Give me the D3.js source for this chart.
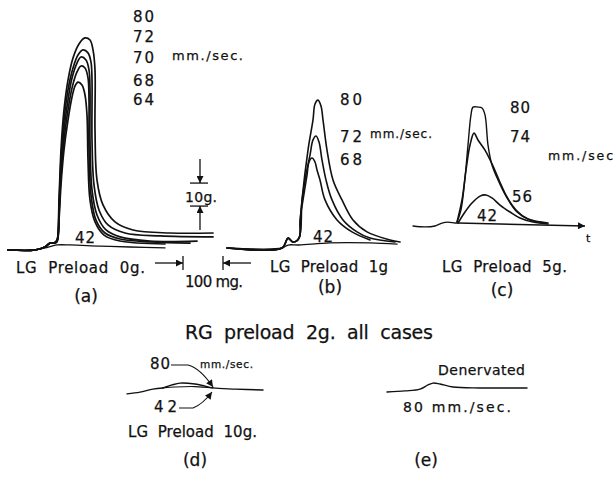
<!DOCTYPE html>
<html><head><meta charset="utf-8">
<script src="https://cdn.jsdelivr.net/npm/d3@7"></script>
<style>
body{margin:0;background:#fff}
svg{display:block}
text{font-family:"DejaVu Sans","Liberation Sans",Arial,sans-serif;fill:#111;stroke:#111;stroke-width:0.25}
</style>
</head><body>
<svg id="c" width="616" height="478"></svg>
<script>
// ---- DATA: force traces, time in ms, force in g ----
// Panel (a) LG preload 0 g
const aStart = [[0,0],[67.5,0],[92.5,1.3],[105,3],[115,3]];
const a80 = [[122.5,4.3],[127.5,21.7],[132.5,43.5],[140,60.9],[150,73.9],[162.5,83.5],[177.5,89.6],[192.5,92.2],[205,91.3],[212.5,87],[217.5,78.3],[217.5,52.2],[222.5,30.4],[237.5,19.6],[267.5,12.2],[312.5,8.7],[405,7.4],[512.5,7.4]];
const a72 = [[122.5,4.3],[127.5,19.6],[132.5,39.1],[140,56.5],[150,69.6],[162.5,79.1],[175,84.8],[187.5,87],[200,85.7],[207.5,81.7],[210,73.9],[210,47.8],[215,28.3],[227.5,17.4],[250,10.9],[292.5,7.4],[380,6.1],[512.5,5.7]];
const a70 = [[122.5,3.9],[127.5,17.4],[132.5,34.8],[140,52.2],[150,65.2],[160,74.8],[172.5,81.3],[182.5,83.9],[195,82.6],[202.5,78.3],[205,69.6],[205,47.8],[210,26.1],[222.5,15.2],[245,8.7],[280,5.7],[355,3.9],[472.5,3.9]];
const a68 = [[122.5,3.9],[127.5,15.2],[132.5,32.6],[140,47.8],[150,60.9],[160,70.4],[172.5,77.4],[182.5,80],[192.5,79.1],[200,74.8],[202.5,65.2],[202.5,43.5],[207.5,23.9],[220,13],[242.5,7.4],[280,4.8],[355,3.5],[455,3]];
const a64 = [[122.5,3.5],[127.5,13],[132.5,28.3],[140,43.5],[150,56.5],[160,66.5],[167.5,71.3],[175,73],[185,71.7],[192.5,67.4],[197.5,58.7],[200,39.1],[205,21.7],[217.5,12.2],[240,6.5],[280,3.9],[392.5,2.6]];
const a42 = [[0,0],[67.5,0],[92.5,0.9],[110,1.7],[122.5,2.2],[155,2.2],[230,1.7],[305,1.3],[392.5,0.9]];
const aLabels = ["80","72","70","68","64"];

// Panel (b) LG preload 1 g
const bStart = [[0,0],[137.5,0],[152.5,4.3],[165,2.6],[180,4.3]];
const b80 = [[187.5,20.9],[202.5,42.6],[215,55.7],[220,62.6],[227.5,64.3],[235,61.7],[240,55.7],[250,42.6],[265,29.6],[287.5,20.9],[315,12.2],[350,7],[407.5,3.5],[432.5,2.6]];
const b72 = [[185,16.5],[195,29.6],[207.5,40.4],[215,47],[222.5,48.7],[230,46.1],[237.5,38.3],[247.5,29.6],[262.5,20.9],[290,12.2],[325,7],[357.5,4.3],[420,2.6]];
const b68 = [[182.5,12.2],[190,20.9],[200,31.7],[205,37.4],[212.5,39.1],[220,37.4],[225,33.9],[232.5,29.6],[245,20.9],[275,12.2],[312.5,7],[357.5,3.5]];
const b42 = [[0,0],[137.5,0],[152.5,1.3],[180,1.3],[257.5,2.2],[357.5,2.2],[425,1.7]];
const bLabels = ["80","72","68"];

// Panel (c) LG preload 5 g
const cBase = [[0,0],[30,-0.4],[55,0],[72.5,1.3],[87.5,1.7],[105,1.3],[112.5,1.3]];
const cAxis = [[112.5,1.3],[430,0]];
const c80 = [[110,1.7],[120,7],[130,20.9],[137.5,35.2],[145,48.3],[150,51.7],[162.5,51.7],[172.5,51.3],[180,48.3],[187.5,35.2],[197.5,26.5],[212.5,20],[235,12.2],[260,6.1],[287.5,3],[330,1.3]];
const c74 = [[110,1.7],[122.5,11.3],[132.5,24.3],[142.5,35.2],[152.5,40.4],[162.5,37.4],[180,33],[197.5,27],[215,20],[235,12.6],[260,6.5],[287.5,3],[337.5,1.3]];
const c56 = [[112.5,1.3],[130,6.1],[147.5,10],[167.5,13],[182.5,13.5],[197.5,12.2],[217.5,9.1],[242.5,6.1],[267.5,3.5],[300,1.7],[337.5,0.9]];
const cLabels = ["80","74","56","42"];

// Panel (d) LG preload 10 g
const dBase = [[0,-1.7],[32.5,-0.9],[65,0.4],[90,0.9]];
const d80 = [[90,0.9],[112.5,2.2],[132.5,3],[170,2.6],[195,1.7],[215,0.9],[270,0.4],[340,0]];
const d42 = [[90,0.9],[120,1.3],[170,1.5],[215,0.9]];

// Panel (e) denervated
const e80 = [[5,-0.9],[50,-0.4],[87.5,0.4],[107.5,2.2],[120,3],[137.5,2.6],[170,1.3],[237.5,0.9],[355,0.9]];

const scaleBarG = 10, scaleBarMs = 100;

// ---- DRAW ----
const svg = d3.select("#c");
const defs = svg.append("defs");
defs.append("marker").attr("id","ah").attr("viewBox","0 0 10 10").attr("refX",10).attr("refY",5)
  .attr("markerWidth",9).attr("markerHeight",7).attr("markerUnits","userSpaceOnUse").attr("orient","auto")
  .append("path").attr("d","M0,0L10,5L0,10Z").attr("fill","#111");

function panel(ox, oy){
  return {x: d3.scaleLinear().domain([0,1000]).range([ox, ox+400]),
          y: d3.scaleLinear().domain([0,100]).range([oy, oy-230])};
}
const P = {a: panel(8,250), b: panel(227,248), c: panel(413,226), d: panel(127,390), e: panel(385,390)};

function trace(p, pts, w){
  const line = d3.line().x(d=>p.x(d[0])).y(d=>p.y(d[1])).curve(d3.curveCatmullRom.alpha(0.5));
  return svg.append("path").attr("d", line(pts)).attr("fill","none").attr("stroke","#111")
    .attr("stroke-width", w||1.6).attr("stroke-linejoin","round").attr("stroke-linecap","round");
}
[a80,a72,a70,a68,a64].forEach(s=>trace(P.a, aStart.concat(s), 1.7));
trace(P.a, a42, 1.3);
[b80,b72,b68].forEach(s=>trace(P.b, bStart.concat(s), 1.6));
trace(P.b, b42, 1.3);
trace(P.c, cBase, 1.3);
trace(P.c, c80, 1.4); trace(P.c, c74, 1.6); trace(P.c, c56, 1.6);
svg.append("line").attr("x1",P.c.x(cAxis[0][0])).attr("y1",P.c.y(cAxis[0][1]))
  .attr("x2",P.c.x(cAxis[1][0])).attr("y2",P.c.y(cAxis[1][1]))
  .attr("stroke","#111").attr("stroke-width",1.5).attr("marker-end","url(#ah)");
trace(P.d, dBase, 1.4); trace(P.d, d80, 1.4); trace(P.d, d42, 1.2);
trace(P.e, e80, 1.4);

// scale bars (panel a coordinates)
const sx = P.a.x(480), gLo = P.a.y(19.1), gHi = P.a.y(19.1+scaleBarG);
function ln(x1,y1,x2,y2,arrow){
  const l = svg.append("line").attr("x1",x1).attr("y1",y1).attr("x2",x2).attr("y2",y2)
    .attr("stroke","#111").attr("stroke-width",1.3);
  if(arrow) l.attr("marker-end","url(#ah)");
}
ln(sx-10,gHi,sx+8,gHi); ln(sx-10,gLo,sx+8,gLo);
ln(sx,gHi-24,sx,gHi,true); ln(sx,gLo+24,sx,gLo,true);
const t1 = P.a.x(437.5), t2 = P.a.x(437.5+scaleBarMs), ty = 263;
ln(t1,ty-7,t1,ty+7); ln(t2,ty-7,t2,ty+7);
ln(t1-28,ty,t1,ty,true); ln(t2+28,ty,t2,ty,true);

// d leaders
svg.append("path").attr("d","M171,365 L188,365 Q200,368 213,387").attr("fill","none")
  .attr("stroke","#111").attr("stroke-width",1.1).attr("marker-end","url(#ah)");
svg.append("path").attr("d","M179,408 L193,408 Q203,404 212,392").attr("fill","none")
  .attr("stroke","#111").attr("stroke-width",1.1).attr("marker-end","url(#ah)");

// ---- TEXT ----
const texts = [
  [aLabels[0],133,22,21,15],[aLabels[1],133,42,21,15],[aLabels[2],133,63,21,15],[aLabels[3],133,86,21,15],[aLabels[4],133,105,21,15],
  ["mm./sec.",172,60,71,13],["42",75,243,20,15],["10g.",185,202,32,14],
  ["LG  Preload  0g.",16,273,129,15],["100 mg.",185,287,58,15],
  [bLabels[0],340,105,22,15],[bLabels[1],340,142,22,15],[bLabels[2],340,165,22,15],
  ["mm./sec.",370,138,62,12],["42",313,242,20,15],["LG  Preload  1g",270,272,118,15],
  [cLabels[0],510,113,20,15],[cLabels[1],510,142,20,15],[cLabels[2],512,202,20,15],[cLabels[3],477,221,20,15],
  ["mm./sec",548,160,65,12.5],["LG  Preload  5g.",442,272,125,15],
  ["RG  preload  2g.  all  cases",185,339,248,19],
  ["80",150,369,20,15],["mm./sec.",200,368,53,10.5],["42",154,412,23,15],
  ["LG  Preload  10g.",128,437,129,15],
  ["Denervated",438,375,87,14],["80 mm./sec.",403,412,108,14]
];
texts.forEach(([s,x,y,w,f])=>{
  svg.append("text").attr("x",x).attr("y",y).attr("font-size",f)
    .attr("textLength",w).attr("lengthAdjust","spacing").style("white-space","pre").text(s);
});
const panelTags = [["(a)",86,302],["(b)",330,293],["(c)",502,296],["(d)",195,466],["(e)",426,466]];
panelTags.forEach(([s,x,y])=>{
  svg.append("text").attr("x",x).attr("y",y).attr("font-size",17).attr("text-anchor","middle")
    .style("word-spacing","2px").text(s);
});
svg.append("text").attr("x",586).attr("y",242).attr("font-size",11).text("t");
</script>
</body></html>
